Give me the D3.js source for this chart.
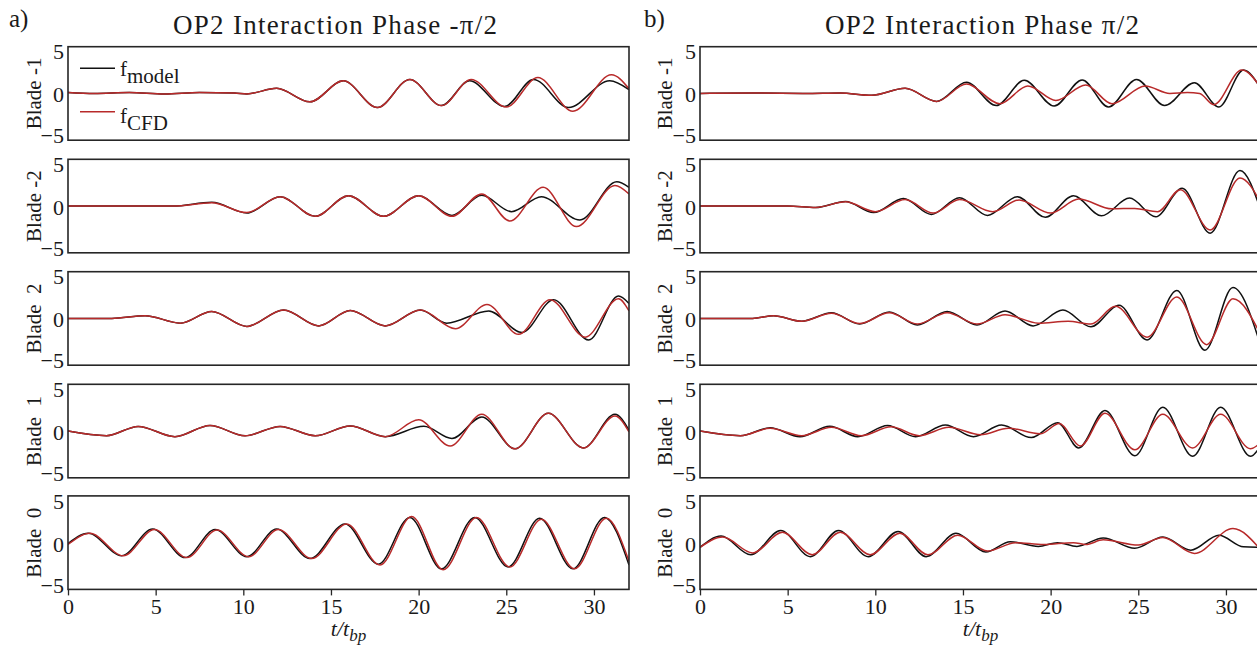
<!DOCTYPE html>
<html><head><meta charset="utf-8">
<script src="https://cdn.jsdelivr.net/npm/d3@7"></script>
<style>
html,body{margin:0;padding:0;background:#fff;overflow:hidden}
text{font-family:"Liberation Serif","Times New Roman",serif;fill:#1a1a1a}
</style></head><body>
<svg id="chart" width="1257" height="645"></svg>
<script>
// ---------- data ----------
const tTicks = [0, 5, 10, 15, 20, 25, 30];
const yTicks = [-5, 0, 5];
const bladeLabels = ["Blade -1", "Blade -2", "Blade \u00A02", "Blade \u00A01", "Blade \u00A00"];
const titles = ["OP2 Interaction Phase -\u03C0/2", "OP2 Interaction Phase \u03C0/2"];
const panelTags = ["a)", "b)"];

// column a) : phase -pi/2   ([t/t_bp, f] at extrema)
const aBladeM1Model = [[0,0.1],[1.5,0.0],[3.5,0.1],[5.5,-0.05],[7.5,0.1],[9.5,0.05],[10.2,-0.05],[11.9,0.55],[13.8,-0.9],[15.7,1.35],[17.65,-1.5],[19.5,1.5],[21.3,-1.3],[22.9,1.35],[24.9,-1.4],[26.55,1.5],[28.55,-1.5],[30.9,1.35],[32,0.4]];
const aBladeM1CFD   = [[0,0.1],[1.5,0.0],[3.5,0.1],[5.5,-0.05],[7.5,0.1],[9.5,0.05],[10.2,-0.05],[11.9,0.55],[13.8,-0.9],[15.7,1.35],[17.65,-1.5],[19.5,1.5],[21.3,-1.3],[23.0,1.5],[25.0,-1.45],[26.8,1.7],[28.8,-1.9],[31.0,2.0],[32,0.5]];
const aBladeM2Model = [[0,0],[6,0],[8.2,0.4],[10.2,-0.75],[12.1,1.0],[14.1,-1.1],[16.0,1.1],[18.0,-1.1],[20.0,1.1],[21.9,-1.0],[23.6,1.15],[25.3,-0.6],[27.0,1.0],[29.2,-1.5],[31.3,2.6],[32,2.0]];
const aBladeM2CFD   = [[0,0],[6,0],[8.2,0.35],[10.2,-0.7],[12.1,1.0],[14.1,-1.1],[16.0,1.1],[18.0,-1.1],[20.0,1.1],[21.9,-1.1],[23.6,1.3],[25.2,-1.6],[27.1,2.0],[29.0,-2.2],[31.2,2.2],[32,1.3]];
const aBladeP2Model = [[0,0],[2.5,0],[4.4,0.3],[6.4,-0.5],[8.2,0.75],[10.2,-0.85],[12.3,0.9],[14.3,-0.8],[16.1,0.85],[18.1,-0.8],[20.1,0.9],[21.6,-0.5],[24.0,0.8],[25.9,-1.5],[27.7,2.0],[29.7,-2.3],[31.4,2.4],[32,1.6]];
const aBladeP2CFD   = [[0,0],[2.5,0],[4.4,0.3],[6.4,-0.5],[8.2,0.75],[10.2,-0.85],[12.3,0.9],[14.3,-0.8],[16.1,0.85],[18.1,-0.8],[20.1,0.9],[22.1,-1.1],[23.9,1.5],[25.7,-1.7],[27.5,2.0],[29.5,-2.0],[31.4,2.1],[32,0.8]];
const aBladeP1Model = [[0,0],[2.2,-0.5],[4.0,0.5],[6.1,-0.6],[8.1,0.6],[10.1,-0.5],[12.1,0.5],[14.1,-0.5],[16.1,0.55],[18.1,-0.6],[20.3,0.5],[21.9,-0.8],[23.6,1.5],[25.5,-1.9],[27.4,1.9],[29.4,-1.8],[31.2,1.8],[32,0.1]];
const aBladeP1CFD   = [[0,0],[2.2,-0.5],[4.0,0.5],[6.1,-0.6],[8.1,0.6],[10.1,-0.5],[12.1,0.5],[14.1,-0.5],[16.1,0.55],[18.1,-0.6],[20.0,1.2],[21.8,-1.6],[23.6,1.8],[25.5,-1.9],[27.4,1.9],[29.4,-1.8],[31.2,1.6],[32,-0.1]];
const aBlade0Model  = [[0,-0.1],[1.16,1.0],[3.06,-1.4],[4.83,1.45],[6.68,-1.6],[8.39,1.4],[10.2,-1.5],[11.9,1.45],[13.8,-1.7],[15.8,2.0],[17.7,-2.3],[19.5,2.7],[21.3,-2.8],[23.2,2.7],[25.1,-2.6],[26.9,2.6],[28.8,-2.8],[30.6,2.7],[32,-2.4]];
const aBlade0CFD    = [[0,-0.2],[1.25,1.0],[3.15,-1.4],[4.93,1.4],[6.78,-1.6],[8.5,1.35],[10.3,-1.5],[12.0,1.4],[13.9,-1.7],[15.9,2.0],[17.8,-2.4],[19.6,2.8],[21.4,-2.9],[23.3,2.7],[25.2,-2.6],[27.0,2.5],[28.9,-2.8],[30.7,2.6],[32,-2.0]];

// column b) : phase +pi/2
const bBladeM1Model = [[0,0],[3,0.05],[6,0.0],[8,0.05],[9.8,-0.2],[11.7,0.55],[13.5,-0.85],[15.2,1.2],[16.9,-1.3],[18.5,1.4],[20.2,-1.35],[21.8,1.45],[23.3,-1.45],[24.9,1.5],[26.5,-1.3],[28.2,1.15],[29.6,-1.45],[31.0,2.5],[32,0.5]];
const bBladeM1CFD   = [[0,0],[3,0.05],[6,0.0],[8,0.05],[9.8,-0.2],[11.7,0.55],[13.5,-0.85],[15.2,1.0],[17.1,-1.1],[18.7,0.8],[20.3,-0.75],[22.0,0.9],[23.5,-1.1],[25.4,0.8],[26.8,0.0],[27.8,0.1],[28.5,0.0],[29.3,-1.2],[30.9,2.5],[32,0.6]];
const bBladeM2Model = [[0,0],[5,0],[6.6,-0.15],[8.3,0.5],[9.9,-0.7],[11.6,0.8],[13.2,-0.9],[14.8,0.9],[16.4,-1.0],[18.1,1.0],[19.7,-1.2],[21.3,1.1],[22.9,-1.05],[24.5,0.85],[26.0,-1.15],[27.5,1.9],[29.1,-2.9],[30.8,3.8],[32,-0.5]];
const bBladeM2CFD   = [[0,0],[5,0],[6.6,-0.15],[8.3,0.45],[10,-0.6],[11.7,0.7],[13.3,-0.75],[14.8,0.7],[16.7,-0.6],[18.2,0.65],[20,-0.75],[21.6,0.75],[23.5,-0.3],[24.8,-0.25],[26.1,-0.6],[27.4,1.75],[29.1,-2.55],[30.8,3.0],[32,0.3]];
const bBladeP2Model = [[0,0],[3,0],[4.2,0.3],[5.8,-0.3],[7.5,0.6],[9.1,-0.6],[10.8,0.7],[12.4,-0.7],[14.1,0.75],[15.8,-0.7],[17.4,0.8],[19,-0.8],[20.7,0.9],[22.3,-0.9],[23.9,1.4],[25.5,-2.3],[27.2,3.0],[28.8,-3.4],[30.4,3.3],[32,-3.0]];
const bBladeP2CFD   = [[0,0],[3,0],[4.2,0.3],[5.8,-0.3],[7.5,0.55],[9.1,-0.55],[10.8,0.6],[12.4,-0.6],[14.1,0.6],[15.8,-0.6],[17.4,0.4],[19.3,-0.5],[21,-0.3],[22.3,-0.6],[23.7,1.3],[25.5,-2.0],[27.2,2.3],[28.9,-2.8],[30.4,2.1],[32,-1.8]];
const bBladeP1Model = [[0,0],[2.3,-0.5],[4.0,0.35],[5.7,-0.6],[7.4,0.5],[9.0,-0.6],[10.7,0.6],[12.3,-0.6],[14.0,0.65],[15.6,-0.6],[17.2,0.65],[18.9,-0.7],[20.4,0.9],[21.6,-1.8],[23.1,2.2],[24.8,-2.65],[26.4,2.55],[28.1,-2.7],[29.7,2.55],[31.4,-2.7],[32,-1.5]];
const bBladeP1CFD   = [[0,0],[2.3,-0.5],[4.0,0.3],[5.8,-0.5],[7.5,0.4],[9.2,-0.5],[10.9,0.45],[12.5,-0.5],[14.2,0.4],[16.0,-0.4],[17.6,0.3],[19.4,-0.3],[20.5,0.8],[21.7,-1.6],[23.1,1.9],[24.8,-2.0],[26.4,1.8],[28.1,-1.8],[29.7,1.8],[31.4,-1.9],[32,-1.2]];
const bBlade0Model  = [[0,-0.5],[1.2,0.7],[2.9,-1.3],[4.6,1.3],[6.3,-1.5],[7.9,1.3],[9.6,-1.5],[11.3,1.2],[12.9,-1.5],[14.6,1.0],[16.3,-1.0],[17.7,0.1],[19.3,-0.4],[20.4,0.0],[21.5,-0.4],[23.0,0.5],[24.8,-0.6],[26.4,0.6],[28.0,-0.8],[29.6,0.8],[31.0,-0.45],[32,-0.5]];
const bBlade0CFD    = [[0,-0.5],[1.3,0.6],[3.0,-1.1],[4.7,1.1],[6.4,-1.3],[8.0,1.1],[9.7,-1.3],[11.4,1.0],[13.0,-1.3],[14.7,0.8],[16.4,-0.9],[18,0.0],[19.6,-0.2],[21.3,0.0],[22.0,-0.2],[23.0,0.3],[25.0,-0.25],[26.4,0.55],[28.2,-1.15],[30.4,1.5],[32,-0.8]];

const seriesNames = ["model", "CFD"];

// ---------- assemble ----------
const columns = [
  [[aBladeM1Model, aBladeM1CFD], [aBladeM2Model, aBladeM2CFD], [aBladeP2Model, aBladeP2CFD], [aBladeP1Model, aBladeP1CFD], [aBlade0Model, aBlade0CFD]],
  [[bBladeM1Model, bBladeM1CFD], [bBladeM2Model, bBladeM2CFD], [bBladeP2Model, bBladeP2CFD], [bBladeP1Model, bBladeP1CFD], [bBlade0Model, bBlade0CFD]]
];

const svg = d3.select("#chart");
const W = 561, H = 93.5;
const colX = [68, 700];
const rowY = [46.7, 159.3, 271.7, 384.3, 495.9];
const colors = ["#111111", "#b82a2a"];

const x = d3.scaleLinear().domain([0, 32]).range([0, W]);
const y = d3.scaleLinear().domain([-5, 5]).range([H, 0]);
const line = d3.line().x(d => x(d[0])).y(d => y(d[1])).curve(d3.curveMonotoneX);

columns.forEach((col, ci) => {
  svg.append("text").attr("x", ci === 0 ? 9 : 644).attr("y", 27)
    .attr("font-size", 25).text(panelTags[ci]);
  svg.append("text").attr("x", ci === 0 ? 173 : 825).attr("y", 34)
    .attr("font-size", 27)
    .attr("textLength", ci === 0 ? 324 : 314)
    .text(titles[ci]);

  col.forEach((pair, ri) => {
    const g = svg.append("g").attr("transform", `translate(${colX[ci]},${rowY[ri]})`);
    const cid = `clip${ci}${ri}`;
    g.append("clipPath").attr("id", cid).append("rect").attr("width", W).attr("height", H);
    const lg = g.append("g").attr("clip-path", `url(#${cid})`);
    pair.forEach((s, si) => {
      lg.append("path").datum(s).attr("d", line)
        .attr("fill", "none").attr("stroke", colors[si]).attr("stroke-width", 1.5);
    });
    g.append("rect").attr("width", W).attr("height", H)
      .attr("fill", "none").attr("stroke", "#262626").attr("stroke-width", 1.6);

    // y tick labels
    const ya = g.append("g").call(d3.axisLeft(y).tickValues(yTicks).tickSize(0).tickPadding(4));
    ya.select(".domain").remove();
    ya.selectAll("text").attr("font-size", 22).attr("font-family", null)
      .attr("dy", d => d === 5 ? "0.55em" : d === 0 ? "0.38em" : "0.12em");

    // y label
    g.append("text").attr("transform", `translate(${ci === 0 ? -27.5 : -28.5},${H / 2}) rotate(-90)`)
      .attr("text-anchor", "middle").attr("font-size", 21)
      .style("white-space", "pre").text(bladeLabels[ri]);

    if (ri === 4) {
      const xa = g.append("g").attr("transform", `translate(0,${H})`)
        .call(d3.axisBottom(x).tickValues(tTicks).tickSize(6).tickPadding(3));
      xa.select(".domain").remove();
      xa.selectAll("line").attr("stroke", "#262626").attr("stroke-width", 1.3);
      xa.selectAll("text").attr("font-size", 22).attr("font-family", null);
      const xl = g.append("text").attr("x", W / 2).attr("y", H + 47)
        .attr("text-anchor", "middle").attr("font-size", 22).style("font-style", "italic");
      xl.append("tspan").text("t/t");
      xl.append("tspan").attr("dy", 5).attr("font-size", 17).text("bp");
    }

    if (ci === 0 && ri === 0) {
      const ly = [21.6, 65];
      const tb = [29.3, 76.6];
      seriesNames.forEach((nm, si) => {
        g.append("line").attr("x1", 12).attr("x2", 47).attr("y1", ly[si]).attr("y2", ly[si])
          .attr("stroke", colors[si]).attr("stroke-width", 1.5);
        const t = g.append("text").attr("x", 52).attr("y", tb[si]).attr("font-size", 21);
        t.append("tspan").text("f");
        t.append("tspan").attr("dy", 7).text(nm);
      });
    }
  });
});
</script>
</body></html>
